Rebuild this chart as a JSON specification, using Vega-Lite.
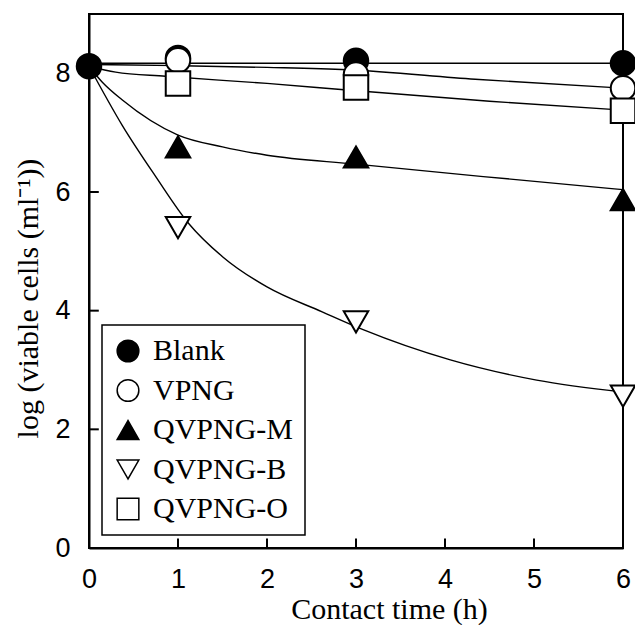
{
  "$schema": "https://vega.github.io/schema/vega-lite/v6.json",
  "autosize": {"type": "none"},
  "padding": {"left": 89, "top": 14, "right": 12, "bottom": 77},
  "width": 534,
  "height": 534,
  "background": "white",
  "config": {
    "view": {"stroke": "black", "strokeWidth": 2},
    "axis": {
      "grid": false,
      "domainColor": "black",
      "domainWidth": 2,
      "labelFlush": false,
      "labelFont": "Liberation Sans",
      "labelFontSize": 27,
      "labelColor": "black",
      "format": "d",
      "titleFont": "Liberation Serif",
      "titleFontSize": 30,
      "titleFontWeight": "normal",
      "titleColor": "black"
    },
    "legend": {
      "orient": "none",
      "legendX": 13,
      "legendY": 311,
      "strokeColor": "black",
      "strokeWidth": 1.5,
      "fillColor": "white",
      "padding": 11,
      "labelFont": "Liberation Serif",
      "labelFontSize": 30,
      "labelColor": "black",
      "labelOffset": 10,
      "symbolSize": 470,
      "symbolStrokeWidth": 1.5,
      "rowPadding": 9.5
    }
  },
  "datasets": {
    "points": [
      {"series": "Blank", "time": 0, "value": 8.12},
      {"series": "Blank", "time": 1, "value": 8.26},
      {"series": "Blank", "time": 3, "value": 8.21},
      {"series": "Blank", "time": 6, "value": 8.17},
      {"series": "VPNG", "time": 1, "value": 8.22},
      {"series": "VPNG", "time": 3, "value": 7.98},
      {"series": "VPNG", "time": 6, "value": 7.75},
      {"series": "QVPNG-M", "time": 1, "value": 6.76},
      {"series": "QVPNG-M", "time": 3, "value": 6.59},
      {"series": "QVPNG-M", "time": 6, "value": 5.87},
      {"series": "QVPNG-B", "time": 1, "value": 5.4},
      {"series": "QVPNG-B", "time": 3, "value": 3.81},
      {"series": "QVPNG-B", "time": 6, "value": 2.56},
      {"series": "QVPNG-O", "time": 1, "value": 7.83},
      {"series": "QVPNG-O", "time": 3, "value": 7.76},
      {"series": "QVPNG-O", "time": 6, "value": 7.37}
    ],
    "fits": [
      {"series": "Blank", "time": 0, "value": 8.17},
      {"series": "Blank", "time": 6, "value": 8.17},
      {"series": "VPNG", "time": 0, "value": 8.15},
      {"series": "VPNG", "time": 1, "value": 8.13},
      {"series": "VPNG", "time": 2, "value": 8.1},
      {"series": "VPNG", "time": 2.9, "value": 8.06},
      {"series": "VPNG", "time": 4.34, "value": 7.9},
      {"series": "VPNG", "time": 6, "value": 7.75},
      {"series": "QVPNG-O", "time": 0, "value": 8.12},
      {"series": "QVPNG-O", "time": 0.3, "value": 8.02},
      {"series": "QVPNG-O", "time": 0.86, "value": 7.95},
      {"series": "QVPNG-O", "time": 2, "value": 7.83},
      {"series": "QVPNG-O", "time": 2.9, "value": 7.72},
      {"series": "QVPNG-O", "time": 4.5, "value": 7.53},
      {"series": "QVPNG-O", "time": 6, "value": 7.38},
      {"series": "QVPNG-M", "time": 0, "value": 8.12},
      {"series": "QVPNG-M", "time": 0.15, "value": 7.85},
      {"series": "QVPNG-M", "time": 0.375, "value": 7.55},
      {"series": "QVPNG-M", "time": 1, "value": 6.96},
      {"series": "QVPNG-M", "time": 1.5, "value": 6.76},
      {"series": "QVPNG-M", "time": 2, "value": 6.62},
      {"series": "QVPNG-M", "time": 3, "value": 6.47},
      {"series": "QVPNG-M", "time": 4.43, "value": 6.26},
      {"series": "QVPNG-M", "time": 6, "value": 6.04},
      {"series": "QVPNG-B", "time": 0, "value": 8.12},
      {"series": "QVPNG-B", "time": 0.375, "value": 7.12},
      {"series": "QVPNG-B", "time": 0.75, "value": 6.26},
      {"series": "QVPNG-B", "time": 1.12, "value": 5.47},
      {"series": "QVPNG-B", "time": 1.5, "value": 4.91},
      {"series": "QVPNG-B", "time": 2, "value": 4.4},
      {"series": "QVPNG-B", "time": 2.62, "value": 3.98},
      {"series": "QVPNG-B", "time": 3.08, "value": 3.68},
      {"series": "QVPNG-B", "time": 4.06, "value": 3.17},
      {"series": "QVPNG-B", "time": 5.03, "value": 2.83},
      {"series": "QVPNG-B", "time": 6, "value": 2.63}
    ],
    "xticks": [{"t": 1, "lo": 0, "hi": 0.16}, {"t": 2, "lo": 0, "hi": 0.16}, {"t": 3, "lo": 0, "hi": 0.16}, {"t": 4, "lo": 0, "hi": 0.16}, {"t": 5, "lo": 0, "hi": 0.16}],
    "yticks": [{"v": 2, "lo": 0, "hi": 0.11}, {"v": 4, "lo": 0, "hi": 0.11}, {"v": 6, "lo": 0, "hi": 0.11}, {"v": 8, "lo": 0, "hi": 0.11}]
  },
  "layer": [
    {
      "data": {"name": "fits"},
      "mark": {"type": "line", "interpolate": "monotone", "color": "black", "strokeWidth": 1.4},
      "encoding": {
        "x": {"field": "time", "type": "quantitative", "scale": {"domain": [0, 6], "nice": false},
          "axis": {"values": [0, 1, 2, 3, 4, 5, 6], "ticks": false, "title": "Contact time (h)", "labelPadding": 39, "labelBaseline": "alphabetic", "titleX": 300, "titleY": 70, "titleAlign": "center", "titleBaseline": "alphabetic"}},
        "y": {"field": "value", "type": "quantitative", "scale": {"domain": [0, 9], "nice": false},
          "axis": {"values": [0, 2, 4, 6, 8], "ticks": false, "title": "log (viable cells (ml⁻¹))", "labelPadding": 19, "titleX": -61, "titleY": 284, "titleAlign": "center", "titleBaseline": "middle", "titleAngle": -90}},
        "detail": {"field": "series"}
      }
    },
    {
      "data": {"name": "xticks"},
      "mark": {"type": "rule", "color": "black", "strokeWidth": 2},
      "encoding": {
        "x": {"field": "t", "type": "quantitative"},
        "y": {"field": "lo", "type": "quantitative"},
        "y2": {"field": "hi"}
      }
    },
    {
      "data": {"name": "yticks"},
      "mark": {"type": "rule", "color": "black", "strokeWidth": 2},
      "encoding": {
        "y": {"field": "v", "type": "quantitative"},
        "x": {"field": "lo", "type": "quantitative"},
        "x2": {"field": "hi"}
      }
    },
    {
      "data": {"name": "points"},
      "mark": {"type": "point", "filled": true, "strokeWidth": 2, "opacity": 1, "size": 600},
      "encoding": {
        "x": {"field": "time", "type": "quantitative"},
        "y": {"field": "value", "type": "quantitative"},
        "shape": {"field": "series", "type": "nominal",
          "scale": {"domain": ["Blank", "VPNG", "QVPNG-M", "QVPNG-B", "QVPNG-O"], "range": ["circle", "circle", "triangle-up", "triangle-down", "square"]},
          "legend": {"title": null}},
        "fill": {"field": "series", "type": "nominal",
          "scale": {"domain": ["Blank", "VPNG", "QVPNG-M", "QVPNG-B", "QVPNG-O"], "range": ["black", "white", "black", "white", "white"]},
          "legend": {"title": null}},
        "stroke": {"field": "series", "type": "nominal",
          "scale": {"domain": ["Blank", "VPNG", "QVPNG-M", "QVPNG-B", "QVPNG-O"], "range": ["black", "black", "black", "black", "black"]},
          "legend": {"title": null}}
      }
    }
  ]
}
